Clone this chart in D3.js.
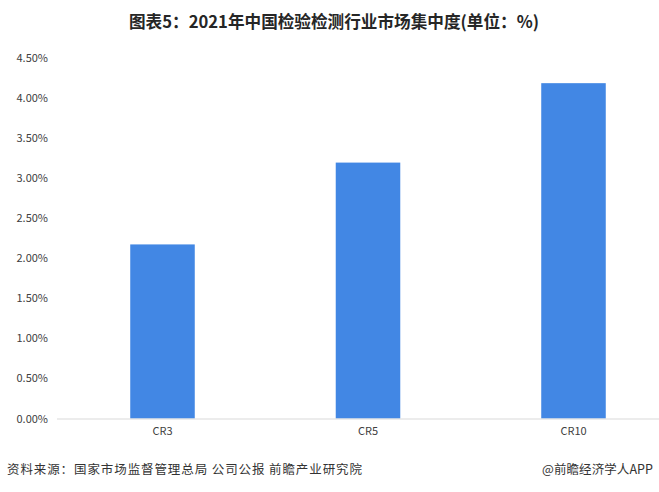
<!DOCTYPE html>
<html>
<head>
<meta charset="utf-8">
<script src="https://cdn.jsdelivr.net/npm/d3@7/dist/d3.min.js"></script>
<style>
  html, body { margin: 0; padding: 0; background: #fff; }
  svg { display: block; }
  text { font-family: "Noto Sans CJK SC", "Noto Sans", sans-serif; }
</style>
</head>
<body>
<svg id="chart" width="659" height="492"></svg>
<script>
const categories = ["CR3", "CR5", "CR10"];
const values = [2.17, 3.19, 4.18];
const yTicks = [0, 0.5, 1, 1.5, 2, 2.5, 3, 3.5, 4, 4.5];
const titleText = "图表5：2021年中国检验检测行业市场集中度(单位：%)";
const sourceText = "资料来源：国家市场监督管理总局 公司公报 前瞻产业研究院";
const creditText = "@前瞻经济学人APP";

const svg = d3.select("#chart");
const W = 659, H = 492;

const y = d3.scaleLinear().domain([0, 4.5]).range([418.5, 57.5]);
const x = d3.scaleBand().domain(categories).range([59.75, 676.25])
  .paddingInner(0.686).paddingOuter(0.343);

// title
svg.append("text")
  .attr("x", 129).attr("y", 28)
  .attr("textLength", 410).attr("lengthAdjust", "spacingAndGlyphs")
  .attr("font-size", 17).attr("font-weight", "bold").attr("fill", "#262626")
  .text(titleText);

// y axis labels
const yAxis = d3.axisLeft(y).tickValues(yTicks).tickSize(0).tickPadding(0)
  .tickFormat(d => d3.format(".2f")(d) + "%");
const gy = svg.append("g").attr("transform", "translate(48,0)").call(yAxis);
gy.select(".domain").remove();
gy.selectAll("text")
  .attr("font-family", "'Open Sans', 'Noto Sans', sans-serif")
  .attr("font-size", 11).attr("fill", "#404040");

// bars
svg.append("g").selectAll("rect").data(values).join("rect")
  .attr("x", (d, i) => x(categories[i]))
  .attr("width", x.bandwidth())
  .attr("y", d => y(d))
  .attr("height", d => y(0) - y(d))
  .attr("fill", "#4287e4");

// x axis
const xAxis = d3.axisBottom(x).tickSize(0).tickPadding(9);
const gx = svg.append("g").attr("transform", `translate(0,${y(0)})`).call(xAxis);
gx.select(".domain").remove();
gx.append("line").attr("x1", 57).attr("x2", W).attr("y1", 0.5).attr("y2", 0.5)
  .attr("stroke", "#d9d9d9").attr("stroke-width", 1);
gx.selectAll("text")
  .attr("font-family", "'Open Sans', 'Noto Sans', sans-serif")
  .attr("font-size", 11).attr("fill", "#404040");

// footer
svg.append("text")
  .attr("x", 7).attr("y", 474)
  .attr("textLength", 355).attr("lengthAdjust", "spacing")
  .attr("font-size", 12.5).attr("fill", "#333")
  .text(sourceText);
svg.append("text")
  .attr("x", 542).attr("y", 474)
  .attr("textLength", 111).attr("lengthAdjust", "spacing")
  .attr("font-size", 12.5).attr("fill", "#333")
  .text(creditText);
</script>
</body>
</html>
